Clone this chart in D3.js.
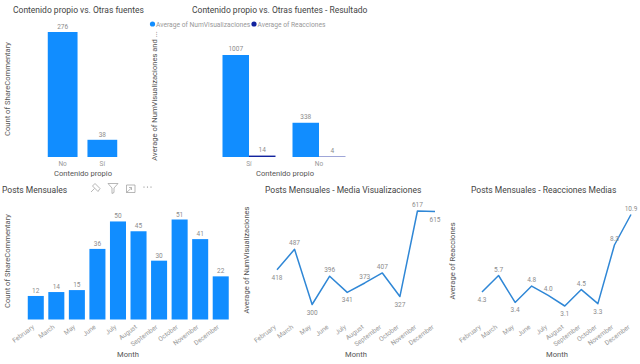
<!DOCTYPE html>
<html>
<head>
<meta charset="utf-8">
<script src="https://cdn.jsdelivr.net/npm/d3@7"></script>
<style>
  html, body { margin: 0; padding: 0; background: #fff; overflow: hidden; }
  text { font-family: Roboto, "Noto Sans", sans-serif; }
  .title { font-size: 8.5px; fill: #444; }
  .axis-title { font-size: 7.6px; fill: #555; }
  .tick-label { font-size: 6.5px; fill: #999; }
  .value { font-size: 6.5px; fill: #8c8c8c; }
  .legend { font-size: 6.7px; fill: #999; }
</style>
</head>
<body>
<script>
const blue = '#118DFF';
const navy = '#12239E';
const lineBlue = '#2f87d6';

// top left
const propioCats = ['No', 'Sí'];
const propioCounts = [276, 38];

// top middle
const resultadoCats = ['Sí', 'No'];
const resultadoVis = [1007, 338];
const resultadoReac = [14, 4];

// bottom row
const months = ['February', 'March', 'May', 'June', 'July', 'August', 'September', 'October', 'November', 'December'];
const postCounts = [12, 14, 15, 36, 50, 45, 30, 51, 41, 22];
const mediaVis = [418, 487, 300, 396, 341, 373, 407, 327, 617, 615];
const mediaVisLabels = ['418', '487', '300', '396', '341', '373', '407', '327', '617', '615'];
const reacMedias = [4.3, 5.7, 3.4, 4.8, 4.0, 3.1, 4.5, 3.3, 8.3, 10.9];
const reacLabels = ['4.3', '5.7', '3.4', '4.8', '4.0', '3.1', '4.5', '3.3', '8.3', '10.9'];

const svg = d3.select('body').append('svg')
    .attr('width', 640)
    .attr('height', 364);

function title(x, y, str, anchor = 'start') {
    svg.append('text')
        .attr('class', 'title')
        .attr('x', x)
        .attr('y', y)
        .attr('text-anchor', anchor)
        .text(str);
}

function axisTitle(x, y, str, vertical = false) {
    let t = svg.append('text')
        .attr('class', 'axis-title')
        .attr('text-anchor', 'middle')
        .text(str);
    if (vertical)
        t.attr('transform', `translate(${x}, ${y}) rotate(-90)`);
    else
        t.attr('x', x).attr('y', y);
}

// month or category axis, no line and no tick marks
function xAxis(scale, y, rotate) {
    let g = svg.append('g')
        .attr('transform', `translate(0, ${y})`)
        .call(d3.axisBottom(scale).tickSize(0).tickPadding(4));
    g.select('.domain').remove();
    g.selectAll('text')
        .attr('class', 'tick-label');
    if (rotate)
        g.selectAll('text')
            .attr('x', 0)
            .attr('y', 0)
            .attr('dy', '.35em')
            .attr('transform', 'translate(-2.5, 6) rotate(-37)')
            .style('text-anchor', 'end');
}

function valueLabel(x, y, str) {
    svg.append('text')
        .attr('class', 'value')
        .attr('x', x)
        .attr('y', y)
        .attr('text-anchor', 'middle')
        .text(str);
}

// top left chart
title(13, 12.5, 'Contenido propio vs. Otras fuentes');
let x1 = d3.scaleBand().domain(propioCats).range([43, 122]).paddingInner(0.25).paddingOuter(0.12);
let y1 = d3.scaleLinear().domain([0, 276]).range([157, 32]);
svg.selectAll('.b1')
    .data(propioCats)
    .enter()
    .append('rect')
    .attr('x', d => x1(d))
    .attr('y', (d, i) => y1(propioCounts[i]))
    .attr('width', x1.bandwidth())
    .attr('height', (d, i) => 157 - y1(propioCounts[i]))
    .attr('fill', blue);
propioCats.forEach((d, i) => valueLabel(x1(d) + x1.bandwidth() / 2, y1(propioCounts[i]) - 3, propioCounts[i]));
xAxis(x1, 157, false);
axisTitle(83, 176, 'Contenido propio');
axisTitle(10, 89, 'Count of ShareCommentary', true);

// top middle chart
title(192, 12.5, 'Contenido propio vs. Otras fuentes - Resultado');
svg.append('circle').attr('cx', 152.5).attr('cy', 24).attr('r', 2.6).attr('fill', blue);
svg.append('text').attr('class', 'legend').attr('x', 156).attr('y', 26.5).text('Average of NumVisualizaciones');
svg.append('circle').attr('cx', 254).attr('cy', 24).attr('r', 2.6).attr('fill', navy);
svg.append('text').attr('class', 'legend').attr('x', 257.5).attr('y', 26.5).text('Average of Reacciones');
let x2 = d3.scaleBand().domain(resultadoCats).range([212.7, 355.3]).paddingInner(0.243).paddingOuter(0.14);
let x2b = d3.scaleBand().domain(['vis', 'reac']).range([0, x2.bandwidth()]);
let y2 = d3.scaleLinear().domain([0, 1007]).range([157, 55]);
resultadoCats.forEach((d, i) => {
    let vals = [resultadoVis[i], resultadoReac[i]];
    ['vis', 'reac'].forEach((s, j) => {
        svg.append('rect')
            .attr('x', x2(d) + x2b(s))
            .attr('y', y2(vals[j]))
            .attr('width', x2b.bandwidth())
            .attr('height', 157 - y2(vals[j]))
            .attr('fill', j ? navy : blue);
        valueLabel(x2(d) + x2b(s) + x2b.bandwidth() / 2, y2(vals[j]) - 4, vals[j]);
    });
});
xAxis(x2, 157, false);
axisTitle(285, 176, 'Contenido propio');
axisTitle(157, 96, 'Average of NumVisualizaciones and ...', true);

// bottom left chart
title(2, 193, 'Posts Mensuales');
let x3 = d3.scaleBand().domain(months).range([25.5, 231]).paddingInner(0.22).paddingOuter(0.11);
let y3 = d3.scaleLinear().domain([0, 51]).range([319.5, 219.5]);
svg.selectAll('.b3')
    .data(months)
    .enter()
    .append('rect')
    .attr('x', d => x3(d))
    .attr('y', (d, i) => y3(postCounts[i]))
    .attr('width', x3.bandwidth())
    .attr('height', (d, i) => 319.5 - y3(postCounts[i]))
    .attr('fill', blue);
months.forEach((d, i) => valueLabel(x3(d) + x3.bandwidth() / 2, y3(postCounts[i]) - 3, postCounts[i]));
xAxis(x3, 320, true);
axisTitle(128, 357, 'Month');
axisTitle(10, 261, 'Count of ShareCommentary', true);

// toolbar over the bottom left chart
let bar = svg.append('g').attr('fill', 'none').attr('stroke', '#999').attr('stroke-width', .7);
bar.append('path').attr('d', 'M91 192l3.5-3.5M92.5 186l5.5 5.5M95 183.5l5 5M95 183.5l-2.5 2.5M100 188.5l-2 3');
bar.append('path').attr('d', 'M108 183.5h10l-4 4.5v4.5l-2 1v-5.5z');
bar.append('path').attr('d', 'M126.5 185h8.5v7.5h-8.5zM126.5 192.5l5-4.5M129 187.5h2.5v2.5');
[144, 147.5, 151].forEach(cx => svg.append('circle').attr('cx', cx).attr('cy', 187).attr('r', .6).attr('fill', '#777'));

// line charts
function lineChart(xRange, values, labels, yDomain, yRange, below) {
    let x = d3.scalePoint().domain(months).range(xRange);
    let y = d3.scaleLinear().domain(yDomain).range(yRange);
    let line = d3.line()
        .x((d, i) => x(months[i]))
        .y(d => y(d));
    svg.append('path')
        .datum(values)
        .attr('fill', 'none')
        .attr('stroke', lineBlue)
        .attr('stroke-width', 1.5)
        .attr('stroke-linejoin', 'round')
        .attr('d', line);
    values.forEach((v, i) => {
        let py = y(v);
        valueLabel(x(months[i]), below[i] ? py + 10 : py - 4, labels[i]);
    });
    xAxis(x, 320, true);
}

title(265, 193, 'Posts Mensuales - Media Visualizaciones');
lineChart([277, 435], mediaVis, mediaVisLabels, [300, 617], [304.5, 211],
    [true, false, true, false, true, false, false, true, false, true]);
axisTitle(356, 357, 'Month');
axisTitle(249, 260, 'Average of NumVisualizaciones', true);

title(471, 193, 'Posts Mensuales - Reacciones Medias');
lineChart([482, 631], reacMedias, reacLabels, [3.1, 10.9], [306, 214.5],
    [true, false, true, false, false, true, false, true, false, false]);
axisTitle(557, 357, 'Month');
axisTitle(455, 261, 'Average of Reacciones', true);
</script>
</body>
</html>
